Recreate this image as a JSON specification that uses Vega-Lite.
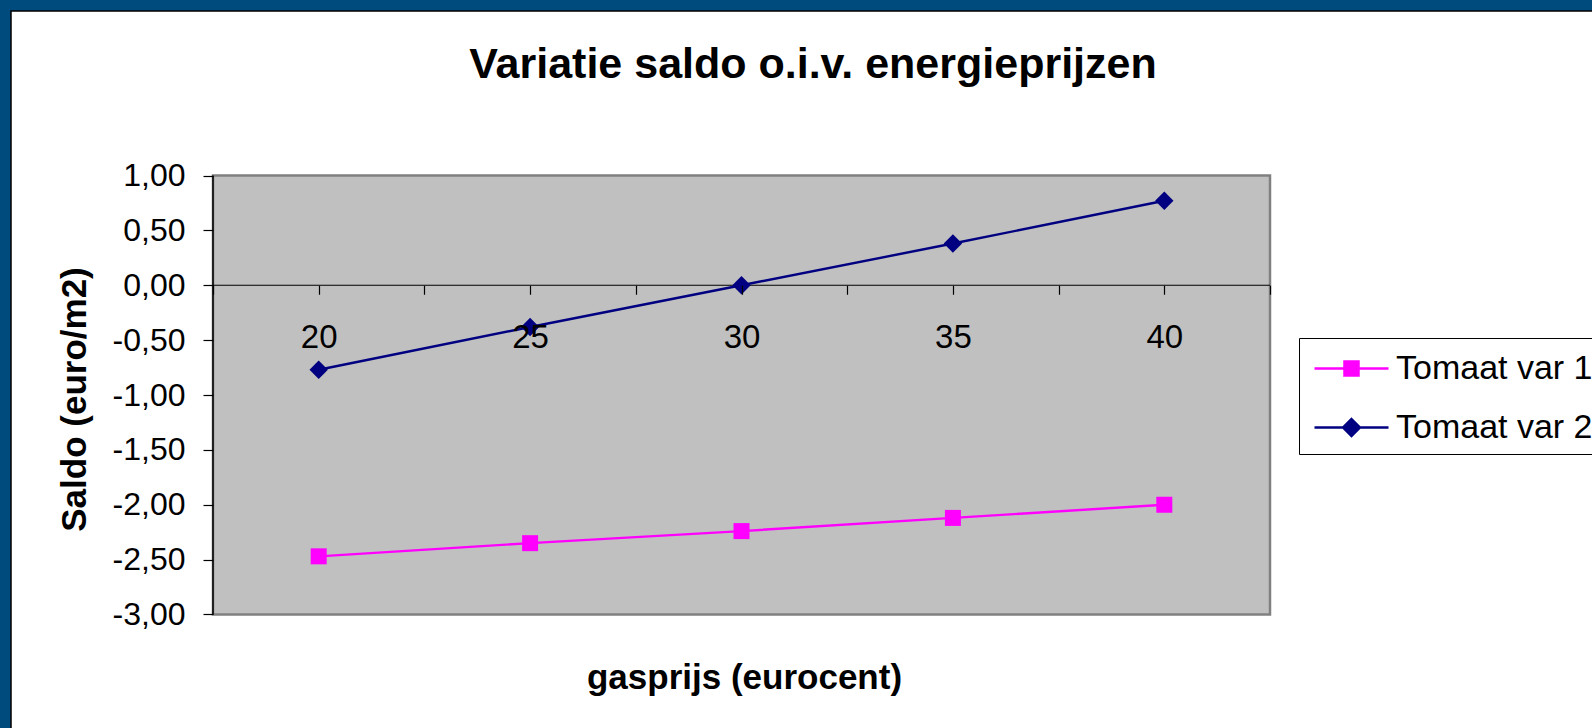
{
  "$schema": "https://vega.github.io/schema/vega-lite/v6.json",
  "width": 1583,
  "height": 719,
  "autosize": {"type": "none"},
  "padding": {"left": 11, "top": 11, "right": -2, "bottom": -2},
  "background": "#004B7D",
  "config": {
    "view": {"fill": "white", "stroke": "black", "strokeWidth": 1.5},
    "font": "Liberation Sans"
  },
  "title": {
    "text": "Variatie saldo o.i.v. energieprijzen",
    "font": "Liberation Sans",
    "fontSize": 43,
    "fontWeight": "bold",
    "color": "black",
    "anchor": "middle",
    "frame": "group",
    "baseline": "alphabetic",
    "offset": -110,
    "dx": 10.5
  },
  "data": {
    "values": [
      {"gas": 20, "saldo": -2.47, "series": "Tomaat var 1"},
      {"gas": 25, "saldo": -2.35, "series": "Tomaat var 1"},
      {"gas": 30, "saldo": -2.24, "series": "Tomaat var 1"},
      {"gas": 35, "saldo": -2.12, "series": "Tomaat var 1"},
      {"gas": 40, "saldo": -2.0, "series": "Tomaat var 1"},
      {"gas": 20, "saldo": -0.77, "series": "Tomaat var 2"},
      {"gas": 25, "saldo": -0.38, "series": "Tomaat var 2"},
      {"gas": 30, "saldo": 0.0, "series": "Tomaat var 2"},
      {"gas": 35, "saldo": 0.38, "series": "Tomaat var 2"},
      {"gas": 40, "saldo": 0.77, "series": "Tomaat var 2"}
    ]
  },
  "layer": [
    {
      "data": {"values": [{}]},
      "mark": {"type": "rect", "fill": "#C0C0C0", "stroke": "#808080", "strokeWidth": 2.5},
      "encoding": {
        "x": {
          "datum": 17.5,
          "type": "quantitative",
          "scale": {"domain": [12.7224, 50.163], "nice": false, "zero": false},
          "axis": {
            "orient": "bottom",
            "offset": -444.75,
            "zindex": 1,
            "domain": false,
            "grid": false,
            "values": [17.5, 20, 22.5, 25, 27.5, 30, 32.5, 35, 37.5, 40, 42.5],
            "labelExpr": "datum.value % 5 === 0 ? format(datum.value, 'd') : ''",
            "labelOverlap": false,
            "labelFlush": false,
            "labelFont": "Liberation Sans",
            "labelFontSize": 33,
            "labelColor": "black",
            "labelPadding": 27,
            "labelBaseline": "top",
            "tickSize": 9,
            "tickColor": "black",
            "tickWidth": 1.2,
            "title": "gasprijs (eurocent)",
            "titleFont": "Liberation Sans",
            "titleFontSize": 35,
            "titleFontWeight": "bold",
            "titleColor": "black",
            "titleX": 733,
            "titleY": 402.75,
            "titleAlign": "center",
            "titleBaseline": "alphabetic"
          }
        },
        "x2": {"datum": 42.5},
        "y": {
          "datum": -3,
          "type": "quantitative",
          "scale": {"domain": [-4.0524, 2.4989], "nice": false, "zero": false},
          "axis": {
            "orient": "left",
            "offset": -202,
            "zindex": 1,
            "domain": false,
            "grid": false,
            "values": [-3, -2.5, -2, -1.5, -1, -0.5, 0, 0.5, 1],
            "labelExpr": "replace(replace(format(datum.value, '.2f'), '.', ','), '\u2212', '-')",
            "labelOverlap": false,
            "labelFlush": false,
            "labelFont": "Liberation Sans",
            "labelFontSize": 32,
            "labelColor": "black",
            "labelPadding": 18,
            "tickSize": 10,
            "tickColor": "black",
            "tickWidth": 1.2,
            "title": "Saldo (euro/m2)",
            "titleFont": "Liberation Sans",
            "titleFontSize": 35,
            "titleFontWeight": "bold",
            "titleColor": "black",
            "titleAngle": 270,
            "titleX": -139,
            "titleY": 388,
            "titleAlign": "center",
            "titleBaseline": "middle"
          }
        },
        "y2": {"datum": 1}
      }
    },
    {
      "data": {"values": [{}]},
      "mark": {"type": "rule", "color": "black", "strokeWidth": 1.2},
      "encoding": {
        "x": {"datum": 17.5, "type": "quantitative"},
        "x2": {"datum": 42.5},
        "y": {"datum": 0, "type": "quantitative"}
      }
    },
    {
      "data": {"values": [{}]},
      "mark": {"type": "rule", "color": "black", "strokeWidth": 1.5},
      "encoding": {
        "x": {"datum": 17.5, "type": "quantitative"},
        "y": {"datum": -3, "type": "quantitative"},
        "y2": {"datum": 1}
      }
    },
    {
      "mark": {"type": "line", "strokeWidth": 2.4},
      "encoding": {
        "x": {"field": "gas", "type": "quantitative"},
        "y": {"field": "saldo", "type": "quantitative"},
        "color": {
          "field": "series",
          "type": "nominal",
          "scale": {"domain": ["Tomaat var 1", "Tomaat var 2"], "range": ["#FF00FF", "#000080"]},
          "legend": {
            "orient": "none",
            "legendX": 1288,
            "legendY": 327,
            "title": null,
            "strokeColor": "black",
            "fillColor": "white",
            "padding": 9,
            "cornerRadius": 0,
            "rowPadding": 20,
            "symbolSize": 1600,
            "symbolStrokeWidth": 2.5,
            "labelFont": "Liberation Sans",
            "labelFontSize": 34,
            "labelColor": "black",
            "labelLimit": 500,
            "labelOffset": 45,
            "labelBaseline": "middle",
            "encode": {
              "symbols": {
                "update": {
                  "shape": {"signal": "datum.value === 'Tomaat var 1' ? 'M-0.75,0H2.95M0.75,-0.35H1.45V0.35H0.75Z' : 'M-0.75,0H2.95M1.1,-0.42L1.52,0L1.1,0.42L0.68,0Z'"},
                  "fill": {"signal": "datum.value === 'Tomaat var 1' ? '#FF00FF' : '#000080'"},
                  "stroke": {"signal": "datum.value === 'Tomaat var 1' ? '#FF00FF' : '#000080'"},
                  "strokeWidth": {"value": 2.5},
                  "opacity": {"value": 1}
                }
              }
            }
          }
        }
      }
    },
    {
      "transform": [{"filter": "datum.series === 'Tomaat var 1'"}],
      "mark": {"type": "point", "filled": true, "size": 256, "opacity": 1, "shape": "square", "color": "#FF00FF"},
      "encoding": {
        "x": {"field": "gas", "type": "quantitative"},
        "y": {"field": "saldo", "type": "quantitative"}
      }
    },
    {
      "transform": [{"filter": "datum.series === 'Tomaat var 2'"}],
      "mark": {"type": "point", "filled": true, "size": 256, "opacity": 1, "shape": "M0,-1.15L1.15,0L0,1.15L-1.15,0Z", "color": "#000080"},
      "encoding": {
        "x": {"field": "gas", "type": "quantitative"},
        "y": {"field": "saldo", "type": "quantitative"}
      }
    }
  ]
}
